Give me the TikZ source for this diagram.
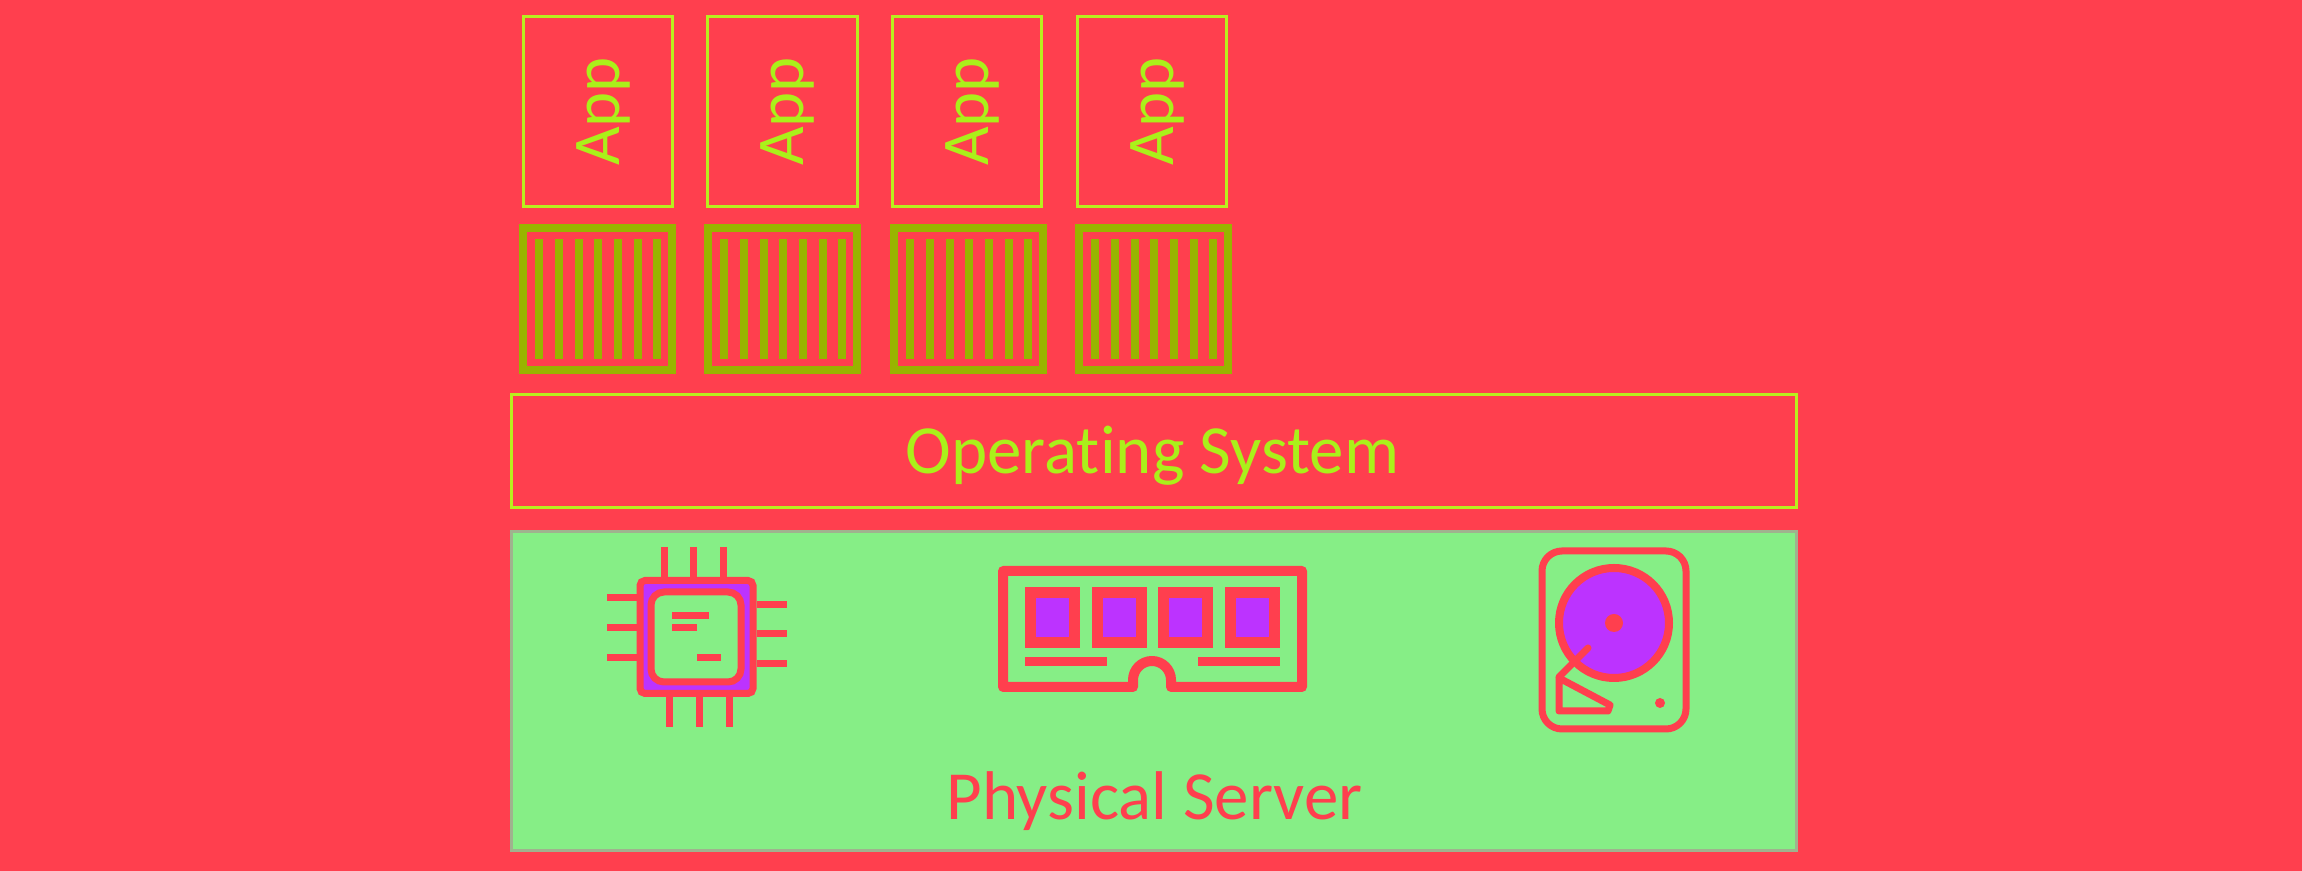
\documentclass[tikz,border=0pt]{standalone}
\usepackage{fontspec}
\setmainfont[Ligatures=NoCommon]{Carlito}
\usepackage{tikz}

\definecolor{bgred}{HTML}{FF3F4E}
\definecolor{lime}{HTML}{B8EE1E}
\definecolor{limetext}{HTML}{AAF01A}
\definecolor{olive}{HTML}{98B400}
\definecolor{mint}{HTML}{86EE86}
\definecolor{chip}{HTML}{BC33FF}
\definecolor{edge}{HTML}{A0B28E}

\tikzset{
    appbox/.style={draw=lime, line width=0.03cm, minimum width=1.49cm, minimum height=1.9cm},
    applabel/.style={text=limetext, font=\fontsize{19}{20}\selectfont, rotate=90, inner sep=0pt, anchor=base},
    crate/.style={draw=olive, line width=0.08cm},
    slat/.style={draw=olive, line width=0.08cm},
    icon/.style={draw=bgred, line width=0.07cm},
    title/.style={font=\fontsize{19.6}{20}\selectfont, inner sep=0pt, anchor=base},
}

\begin{document}
\begin{tikzpicture}[x=0.01cm, y=-0.01cm]
    \fill[bgred] (0,0) rectangle (2302,871);

    \foreach \i/\xa/\xb in {1/598/597.5, 2/782.5/782.5, 3/967/968.5, 4/1152/1153.5} {
        \node[appbox] (app\i) at (\xa,111.5) {};
        \node[applabel] (label\i) at (\xa+21,111.5) {App};
        \draw[crate] (\xb-74.5,228) rectangle (\xb+74.5,370);
        \foreach \s in {-58.5,-38.5,-19,0.5,20.5,40,59.5} {
            \draw[slat] (\xb+\s,239) -- (\xb+\s,359);
        }
    }

    \node[draw=lime, line width=0.03cm, minimum width=12.85cm, minimum height=1.13cm] (os) at (1154,451) {};
    \node[title, text=limetext] (osname) at (1152.5,474) {Operating System};
    \node[draw=edge, fill=mint, line width=0.03cm, minimum width=12.85cm, minimum height=3.19cm] (server) at (1154,691) {};
    \node[title, text=bgred] (servername) at (1154.5,820) {Physical Server};

    \foreach \px in {664,693,723} {
        \draw[icon] (\px,547) -- (\px,577);
    }
    \foreach \px in {669,699,729} {
        \draw[icon] (\px,697) -- (\px,727);
    }
    \foreach \py in {598,628,658} {
        \draw[icon] (607,\py) -- (637,\py);
    }
    \foreach \py in {605,634,664} {
        \draw[icon] (757,\py) -- (787,\py);
    }
    \draw[icon, fill=chip, rounded corners=0.05cm] (640,580.5) rectangle (753,693.5);
    \draw[icon, fill=mint, rounded corners=0.13cm] (651,592) rectangle (741,682);
    \draw[icon] (672,616) -- (709,616);
    \draw[icon] (672,628) -- (697,628);
    \draw[icon] (697,658) -- (721,658);

    \draw[icon, line width=0.1cm, line join=round] (1003,571) -- (1302,571) -- (1302,687) -- (1171,687) -- (1171,680)
        arc[start angle=360, end angle=180, radius=19] -- (1133,687) -- (1003,687) -- cycle;
    \foreach \cx in {1052.5,1119.5,1185.5,1252.5} {
        \draw[icon, fill=chip, line width=0.11cm] (\cx-22,593) rectangle (\cx+22,643);
    }
    \draw[icon, line width=0.09cm] (1025,661.5) -- (1107,661.5);
    \draw[icon, line width=0.09cm] (1198,661.5) -- (1280,661.5);

    \draw[icon, rounded corners=0.2cm] (1542,551) rectangle (1686,729);
    \draw[icon, fill=chip, line width=0.08cm] (1614,623) circle[radius=55];
    \fill[bgred] (1614,623) circle[radius=9];
    \fill[bgred] (1660,703) circle[radius=5];
    \draw[icon, line cap=round] (1588,648) -- (1559,677);
    \draw[icon, line join=round] (1559,678) -- (1559,711) -- (1608,711) -- (1610,705) -- cycle;
\end{tikzpicture}
\end{document}
